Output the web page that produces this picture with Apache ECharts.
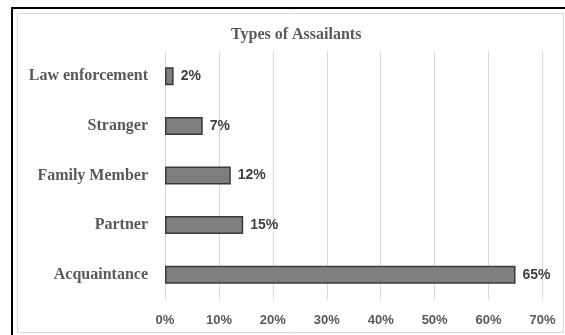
<!DOCTYPE html>
<html>
<head>
<meta charset="utf-8">
<script src="https://cdn.jsdelivr.net/npm/echarts@6/dist/echarts.min.js"></script>
<style>
html,body{margin:0;padding:0;background:#fff;}
#c{width:565px;height:335px;}
</style>
</head>
<body>
<div id="c"></div>
<script>
var titleText = 'Types of Assailants';
var categories = ['Law enforcement', 'Stranger', 'Family Member', 'Partner', 'Acquaintance'];
var values = [1.6, 7, 12.2, 14.5, 65];
var xTicks = [0, 10, 20, 30, 40, 50, 60, 70];

var chart = echarts.init(document.getElementById('c'), null, {renderer: 'canvas'});
chart.setOption({
  animation: false,
  backgroundColor: '#fff',
  graphic: [
    {type: 'rect', shape: {x: 12, y: 8, width: 600, height: 400}, style: {fill: 'none', stroke: '#000', lineWidth: 2}, z: 100},
    {type: 'rect', shape: {x: 17.5, y: 13.5, width: 546, height: 319}, style: {fill: 'none', stroke: '#d9d9d9', lineWidth: 1}, z: 100}
  ],
  title: {
    text: titleText,
    left: 226,
    top: 22,
    textStyle: {fontFamily: 'Liberation Serif', fontWeight: 'bold', fontSize: 16, color: '#595959'}
  },
  grid: {left: 165, right: 22.5, top: 51.5, height: 248, containLabel: false},
  xAxis: {
    type: 'value',
    min: xTicks[0],
    max: xTicks[xTicks.length - 1],
    interval: 10,
    axisLine: {show: false},
    axisTick: {show: false},
    splitLine: {show: true, lineStyle: {color: '#d9d9d9', width: 1}},
    axisLabel: {
      margin: 14,
      formatter: function (v) { return v + '%'; },
      fontFamily: 'Liberation Sans', fontWeight: 'bold', fontSize: 13, color: '#595959'
    }
  },
  yAxis: {
    type: 'category',
    data: categories,
    inverse: true,
    axisLine: {show: false},
    axisTick: {show: false},
    splitLine: {show: false},
    axisLabel: {
      margin: 17,
      fontFamily: 'Liberation Serif', fontWeight: 'bold', fontSize: 16, color: '#595959'
    }
  },
  series: [{
    type: 'bar',
    data: values,
    barWidth: 18,
    itemStyle: {color: '#7f7f7f', borderColor: '#3a3a3a', borderWidth: 1.5},
    label: {
      show: true,
      position: 'right',
      distance: 7,
      formatter: function (p) { return Math.round(p.value) + '%'; },
      fontFamily: 'Liberation Sans', fontWeight: 'bold', fontSize: 14, color: '#404040'
    }
  }]
});
</script>
</body>
</html>
